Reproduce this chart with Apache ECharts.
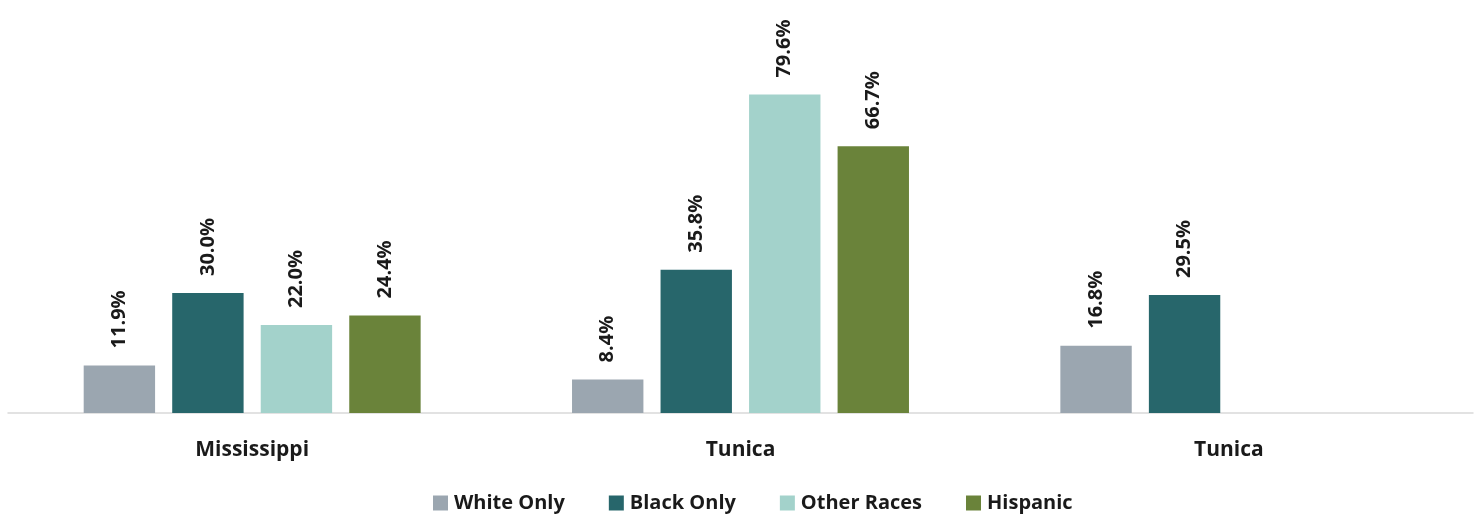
<!DOCTYPE html>
<html>
<head>
<meta charset="utf-8">
<script src="https://cdn.jsdelivr.net/npm/echarts@6/dist/echarts.min.js"></script>
<style>
  html, body { margin: 0; padding: 0; background: #fff; }
  #main { width: 1480px; height: 517px; }
</style>
</head>
<body>
<div id="main"></div>
<script>
// categories along the x axis
var categories = ["Mississippi", "Tunica", "Tunica"];
// series values (percent), null = no bar
var whiteOnly = [11.9, 8.4, 16.8];
var blackOnly = [30.0, 35.8, 29.5];
var otherRaces = [22.0, 79.6, null];
var hispanic = [24.4, 66.7, null];

var seriesNames = ["White Only", "Black Only", "Other Races", "Hispanic"];
var seriesColors = ["#9ba6b0", "#27666b", "#a3d2cb", "#6a833a"];
var seriesData = [whiteOnly, blackOnly, otherRaces, hispanic];

var FONT = "Open Sans";

var chart = echarts.init(document.getElementById("main"));

var series = seriesNames.map(function (name, i) {
  return {
    name: name,
    type: "bar",
    barGap: "24%",
    barCategoryGap: "31%",
    itemStyle: { color: seriesColors[i] },
    label: {
      show: true,
      position: "top",
      rotate: 90,
      align: "left",
      verticalAlign: "middle",
      distance: 17,
      color: "#1a1a1a",
      fontFamily: FONT,
      fontWeight: "bold",
      fontSize: 20,
      formatter: function (p) {
        return p.value == null ? "" : p.value.toFixed(1) + "%";
      }
    },
    data: seriesData[i]
  };
});

chart.setOption({
  animation: false,
  textStyle: { fontFamily: FONT },
  grid: {
    left: 8,
    right: 7,
    top: 13,
    bottom: 104,
    containLabel: false
  },
  legend: {
    data: seriesNames,
    top: 488,
    left: 428,
    itemWidth: 15,
    itemHeight: 15,
    itemGap: 44,
    icon: "rect",
    textStyle: {
      color: "#1a1a1a",
      fontSize: 20,
      fontWeight: "bold",
      fontFamily: FONT,
      padding: [0, 0, 0, 1]
    }
  },
  xAxis: {
    type: "category",
    data: categories,
    axisTick: { show: false },
    axisLine: { lineStyle: { color: "#d9d9d9", width: 1.5 } },
    axisLabel: {
      color: "#1a1a1a",
      fontSize: 21,
      fontWeight: "bold",
      fontFamily: FONT,
      margin: 27
    }
  },
  yAxis: {
    type: "value",
    min: 0,
    max: 100,
    show: false,
    splitLine: { show: false }
  },
  series: series
});
</script>
</body>
</html>
